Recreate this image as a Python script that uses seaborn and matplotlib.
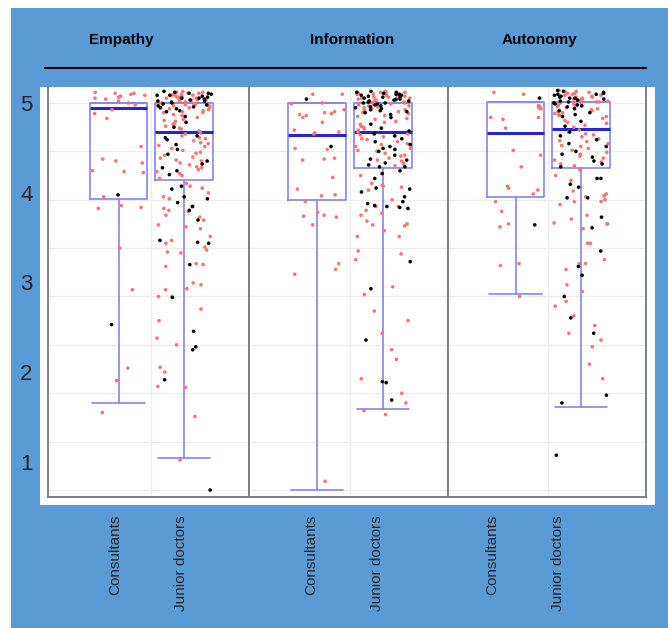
import numpy as np
import pandas as pd
import matplotlib
matplotlib.use("Agg")
import matplotlib.pyplot as plt
from matplotlib.patches import Rectangle
from matplotlib.lines import Line2D
from matplotlib.transforms import ScaledTranslation
import seaborn as sns

facets = ["Empathy", "Information", "Autonomy"]
groups = ["Consultants", "Junior doctors"]

# box statistics, one pair [consultants, junior doctors] per facet
box_q1 = [[4.01, 4.20], [4.00, 4.33], [4.03, 4.33]]
box_med = [[4.95, 4.70], [4.67, 4.70], [4.69, 4.73]]
box_q3 = [[5.00, 5.00], [5.00, 5.00], [5.01, 5.01]]
box_low = [[1.90, 1.33], [1.00, 1.84], [3.03, 1.86]]

# jittered scores
emp_cons_red = [5.11, 5.10, 5.10, 5.09, 5.08, 5.07, 5.06, 5.05, 5.04, 5.02, 5.00, 4.98, 4.93,
                4.89, 4.84, 4.55, 4.42, 4.40, 4.38, 4.30, 4.29, 4.28, 4.03, 3.94, 3.92, 3.91,
                3.50, 3.07, 2.26, 2.13, 1.80]
emp_cons_black = [4.05, 2.71]
emp_jun_red = [5.12, 5.11, 5.11, 5.10, 5.09, 5.10, 5.08, 5.09, 5.07, 5.08, 5.06, 5.07, 5.05,
               5.06, 5.04, 5.05, 5.03, 5.04, 5.02, 5.03, 5.01, 5.02, 5.00, 5.00, 4.99, 4.98,
               4.99, 4.97, 4.98, 4.96, 4.97, 4.95, 4.94, 4.95, 4.93, 4.92, 4.91, 4.90, 4.90,
               4.88, 4.87, 4.85, 4.83, 4.82, 4.81, 4.79, 4.78, 4.76, 4.74, 4.73, 4.71, 4.69,
               4.68, 4.66, 4.64, 4.63, 4.61, 4.59, 4.58, 4.56, 4.55, 4.53, 4.51, 4.49, 4.48,
               4.46, 4.44, 4.43, 4.41, 4.40, 4.38, 4.36, 4.34, 4.33, 4.31, 4.29, 4.27, 4.25,
               4.22, 4.17, 4.14, 4.12, 4.07, 4.03, 4.01, 3.93, 3.91, 3.89, 3.88, 3.84, 3.82,
               3.79, 3.74, 3.72, 3.70, 3.62, 3.58, 3.55, 3.51, 3.48, 3.46, 3.45, 3.34, 3.33,
               3.31, 3.14, 3.12, 3.08, 3.07, 3.00, 3.00, 2.87, 2.75, 2.57, 2.50, 2.27, 2.22,
               2.07, 2.06, 1.76, 1.31]
emp_jun_black = [5.12, 5.11, 5.10, 5.10, 5.09, 5.08, 5.08, 5.07, 5.06, 5.05, 5.05, 5.04, 5.03,
                 5.02, 5.02, 5.01, 5.00, 4.99, 4.98, 4.97, 4.96, 4.95, 4.94, 4.92, 4.91, 4.86,
                 4.80, 4.75, 4.66, 4.64, 4.62, 4.57, 4.52, 4.47, 4.40, 4.37, 4.33, 4.30, 4.26,
                 4.14, 4.11, 4.03, 4.01, 3.97, 3.93, 3.89, 3.79, 3.58, 3.56, 3.55, 3.33, 2.99,
                 2.64, 2.48, 2.45, 2.14, 1.00]

inf_cons_red = [5.09, 5.09, 5.00, 4.99, 4.93, 4.91, 4.90, 4.89, 4.88, 4.87, 4.85, 4.80, 4.72,
                4.70, 4.69, 4.68, 4.53, 4.52, 4.43, 4.42, 4.41, 4.23, 4.11, 4.05, 4.04, 3.98,
                3.87, 3.84, 3.83, 3.82, 3.74, 3.34, 3.28, 3.23, 1.09]
inf_cons_black = [5.04, 4.55]
inf_jun_red = [5.12, 5.11, 5.11, 5.10, 5.10, 5.09, 5.09, 5.08, 5.08, 5.07, 5.06, 5.06, 5.05,
               5.05, 5.04, 5.03, 5.03, 5.02, 5.01, 5.01, 5.00, 4.99, 4.99, 4.98, 4.97, 4.97,
               4.96, 4.95, 4.94, 4.93, 4.92, 4.91, 4.90, 4.89, 4.87, 4.86, 4.84, 4.83, 4.81,
               4.80, 4.78, 4.76, 4.75, 4.73, 4.72, 4.70, 4.68, 4.67, 4.65, 4.63, 4.62, 4.60,
               4.58, 4.57, 4.55, 4.53, 4.51, 4.50, 4.48, 4.46, 4.45, 4.43, 4.41, 4.40, 4.38,
               4.37, 4.35, 4.25, 4.17, 4.15, 4.14, 4.13, 4.10, 4.00, 3.93, 3.93, 3.89, 3.86,
               3.84, 3.78, 3.75, 3.74, 3.73, 3.68, 3.62, 3.62, 3.47, 3.44, 3.38, 3.10, 3.02,
               2.85, 2.75, 2.62, 2.45, 2.35, 2.15, 2.00, 1.90, 1.82, 1.78]
inf_jun_black = [5.12, 5.11, 5.11, 5.10, 5.09, 5.09, 5.08, 5.08, 5.07, 5.06, 5.06, 5.05, 5.04,
                 5.04, 5.03, 5.02, 5.02, 5.01, 5.00, 5.00, 4.99, 4.98, 4.97, 4.96, 4.95, 4.94,
                 4.93, 4.92, 4.91, 4.90, 4.88, 4.85, 4.78, 4.74, 4.71, 4.68, 4.66, 4.63, 4.60,
                 4.57, 4.55, 4.53, 4.52, 4.50, 4.46, 4.42, 4.41, 4.38, 4.36, 4.34, 4.34, 4.30,
                 4.27, 4.22, 4.12, 4.11, 4.08, 4.03, 3.98, 3.96, 3.94, 3.93, 3.92, 3.91, 3.36,
                 3.08, 2.55, 2.12, 2.11, 1.93]

aut_cons_red = [5.11, 5.09, 4.97, 4.97, 4.96, 4.95, 4.94, 4.85, 4.85, 4.83, 4.74, 4.51, 4.46,
                4.34, 4.14, 4.12, 4.10, 4.06, 3.98, 3.88, 3.75, 3.72, 3.34, 3.32, 3.00]
aut_cons_black = [5.05, 3.74]
aut_jun_red = [5.13, 5.12, 5.12, 5.11, 5.10, 5.10, 5.09, 5.08, 5.08, 5.07, 5.06, 5.06, 5.05,
               5.04, 5.04, 5.03, 5.02, 5.01, 5.01, 5.00, 4.99, 4.99, 4.98, 4.97, 4.96, 4.95,
               4.94, 4.93, 4.92, 4.91, 4.90, 4.89, 4.88, 4.87, 4.86, 4.84, 4.82, 4.80, 4.79,
               4.77, 4.75, 4.72, 4.70, 4.68, 4.67, 4.65, 4.63, 4.61, 4.60, 4.58, 4.56, 4.55,
               4.53, 4.51, 4.49, 4.47, 4.45, 4.43, 4.41, 4.39, 4.37, 4.35, 4.31, 4.31, 4.25,
               4.20, 4.09, 4.06, 4.04, 4.03, 4.00, 3.98, 3.98, 3.95, 3.84, 3.80, 3.76, 3.75,
               3.75, 3.70, 3.55, 3.55, 3.38, 3.34, 3.34, 3.28, 3.12, 3.05, 2.95, 2.90, 2.80,
               2.70, 2.62, 2.55, 2.48, 2.30, 2.15]
aut_jun_black = [5.13, 5.12, 5.11, 5.10, 5.09, 5.09, 5.08, 5.07, 5.06, 5.05, 5.05, 5.04, 5.03,
                 5.02, 5.01, 5.00, 4.99, 4.98, 4.97, 4.96, 4.94, 4.92, 4.90, 4.88, 4.86, 4.81,
                 4.76, 4.70, 4.66, 4.62, 4.58, 4.55, 4.50, 4.47, 4.44, 4.40, 4.37, 4.34, 4.22,
                 4.22, 4.16, 4.13, 4.02, 4.02, 3.82, 3.71, 3.47, 3.31, 3.22, 3.00, 2.78, 2.62,
                 1.98, 1.90, 1.36]

points = {
    ("Empathy", "Consultants"): (emp_cons_red, emp_cons_black),
    ("Empathy", "Junior doctors"): (emp_jun_red, emp_jun_black),
    ("Information", "Consultants"): (inf_cons_red, inf_cons_black),
    ("Information", "Junior doctors"): (inf_jun_red, inf_jun_black),
    ("Autonomy", "Consultants"): (aut_cons_red, aut_cons_black),
    ("Autonomy", "Junior doctors"): (aut_jun_red, aut_jun_black),
}

rows = []
for (facet, group), (red, black) in points.items():
    rows += [(facet, group, "red", v) for v in red]
    rows += [(facet, group, "black", v) for v in black]
df = pd.DataFrame(rows, columns=["facet", "group", "colour", "score"])

sns.set_style("white")
plt.rcParams["font.family"] = ["Liberation Sans", "DejaVu Sans"]

BLUE = "#5b9bd5"
W, H = 668, 628
fig = plt.figure(figsize=(W / 100, H / 100), dpi=100, facecolor="white")
fig.patches.append(Rectangle((11 / W, 0), 1 - 11 / W, 1 - 8 / H, transform=fig.transFigure,
                             facecolor=BLUE, edgecolor="none", zorder=-2))
fig.patches.append(Rectangle((40 / W, 1 - 505 / H), 615 / W, 418 / H, transform=fig.transFigure,
                             facecolor="white", edgecolor="none", zorder=-1))

# panel placement in pixels: left, right, and x-limits
panel_px = [(48, 249), (249, 448), (448, 646)]
panel_xlim = [(-1.076, 1.99), (-1.03, 1.985), (-1.03, 1.99)]
label_shift = [-3, -5.5, -23.5]
bottom, top = 497, 87

np.random.seed(7)
axes = []
for i, facet in enumerate(facets):
    l, r = panel_px[i]
    ax = fig.add_axes([l / W, 1 - bottom / H, (r - l) / W, (bottom - top) / H])
    ax.set_facecolor("white")
    axes.append(ax)
    sub = df[df["facet"] == facet]

    stats = []
    for j, g in enumerate(groups):
        stats.append(dict(med=box_med[i][j], q1=box_q1[i][j], q3=box_q3[i][j],
                          whislo=box_low[i][j], whishi=box_q3[i][j], fliers=[]))
    ax.bxp(stats, positions=[0, 1], widths=0.88, capwidths=0.8, showfliers=False,
           manage_ticks=False, zorder=2,
           boxprops=dict(color="#8585ee", linewidth=1.2),
           whiskerprops=dict(color="#8585ee", linewidth=1.2),
           capprops=dict(color="#8585ee", linewidth=1.2),
           medianprops=dict(color="#2525d8", linewidth=2.2))

    sns.stripplot(data=sub, x="group", y="score", hue="colour", order=groups,
                  hue_order=["red", "black"], palette={"red": "#F8766D", "black": "black"},
                  jitter=0.42, size=2.6, linewidth=0, legend=False, ax=ax, zorder=3)

    ax.set_xlim(*panel_xlim[i])
    ax.set_ylim(0.928, 5.165)
    ax.set_xlabel("")
    ax.set_ylabel("")
    ax.set_yticks(np.arange(1, 5.01, 0.5))
    ax.set_xticks([0, 1])
    ax.set_xticklabels(groups, rotation=90, fontsize=11)
    ax.set_xticks([0.5], minor=True)
    ax.grid(False)
    ax.yaxis.grid(True, color="#ededed", linewidth=0.9)
    ax.xaxis.grid(True, which="minor", color="#ededed", linewidth=0.9)
    ax.set_axisbelow(True)
    ax.tick_params(axis="y", labelleft=False, length=0)
    ax.tick_params(axis="x", which="both", length=0, pad=13)
    shift = ScaledTranslation(label_shift[i] / 100, 0, fig.dpi_scale_trans)
    for lab in ax.get_xticklabels():
        lab.set_transform(lab.get_transform() + shift)
    ax.spines["top"].set_visible(False)
    for s in ["left", "right", "bottom"]:
        ax.spines[s].set_color("#7f7f7f")
        ax.spines[s].set_linewidth(1.4)

# score labels as they sit beside the first panel
lab_ax = axes[0].twinx()
lab_ax.set_ylim(0.61, 5.178)
lab_ax.set_yticks([1, 2, 3, 4, 5])
lab_ax.yaxis.set_ticks_position("left")
lab_ax.tick_params(axis="y", length=0, pad=11, labelsize=16)
lab_ax.patch.set_visible(False)
for s in lab_ax.spines.values():
    s.set_visible(False)

# facet titles and rule
for name, xc in zip(facets, [121, 352, 539]):
    fig.text(xc / W, 1 - 40 / H, name, ha="center", va="center", fontsize=11,
             fontweight="bold", color="black")
fig.add_artist(Line2D([45 / W, 646 / W], [1 - 68 / H, 1 - 68 / H], color="black",
                      linewidth=1.5, transform=fig.transFigure))

fig.savefig("out.png", dpi=100)
